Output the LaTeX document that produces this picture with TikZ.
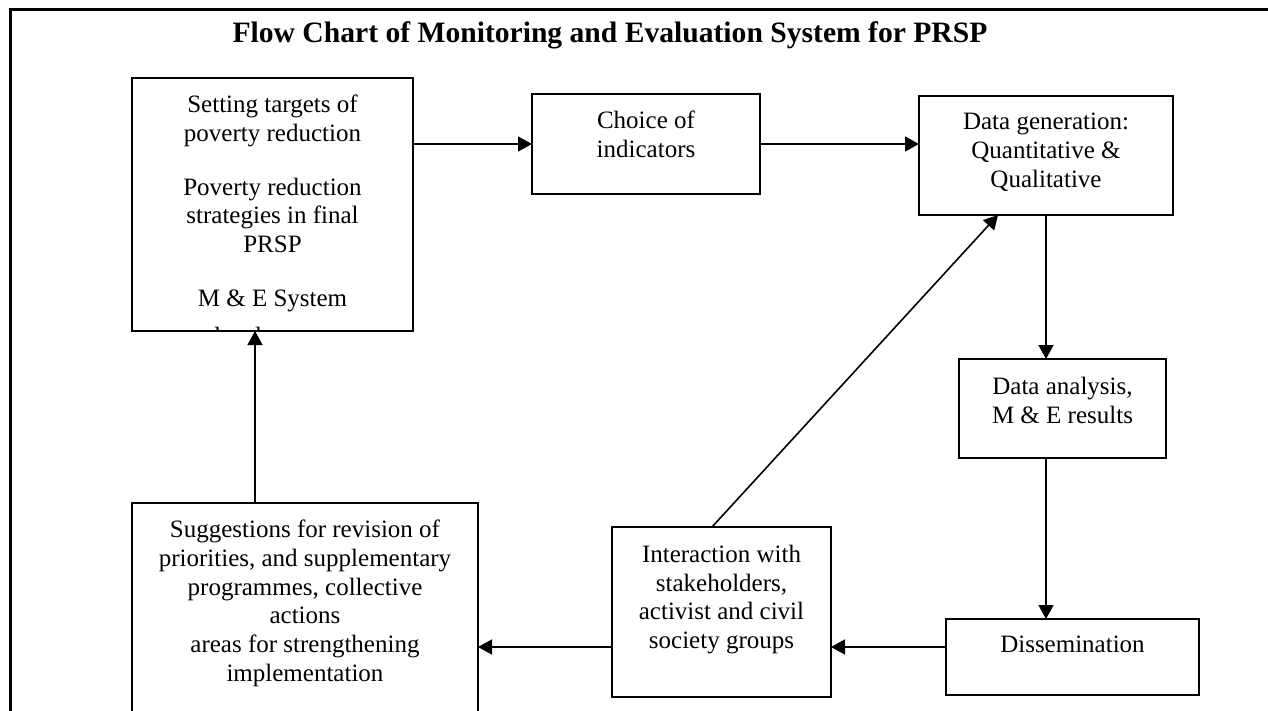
\documentclass[tikz,border=0pt]{standalone}
\usepackage{fontspec}
\setmainfont{Liberation Serif}
\usetikzlibrary{arrows.meta}
\begin{document}
\begin{tikzpicture}[x=1pt,y=-1pt,
  box/.style={draw, line width=2pt, inner sep=0pt, outer sep=0pt},
  txt/.style={anchor=north, align=center, inner sep=0pt, font=\fontsize{25pt}{28.7pt}\selectfont},
  arr/.style={line width=1.6pt, -{Triangle[length=14pt,width=15pt]}},
  frame/.style={line width=3pt}]
\clip (0,0) rectangle (1268,711);
% frame
\coordinate (fbl) at (10,720);
\coordinate (ftl) at (10,10);
\coordinate (ftr) at (1275,10);
\draw[frame] (fbl) -- (ftl) -- (ftr);
% title
\node[anchor=base, inner sep=0pt, font=\fontsize{29.6pt}{32pt}\selectfont\bfseries] (title) at (610,43)
  {Flow Chart of Monitoring and Evaluation System for PRSP};
% boxes
\node[box, minimum width=281pt, minimum height=253pt] (A) at (272.5,204.5) {};
\node[box, minimum width=228pt, minimum height=100pt] (B) at (646,144) {};
\node[box, minimum width=254pt, minimum height=119pt] (C) at (1046,155.5) {};
\node[box, minimum width=207pt, minimum height=99pt] (D) at (1062.5,408.5) {};
\node[box, minimum width=219pt, minimum height=170pt] (E) at (721.5,612) {};
\node[box, minimum width=253pt, minimum height=76pt] (F) at (1072.5,657) {};
\node[box, minimum width=346pt, minimum height=257pt] (G) at (305,631.5) {};
% texts
\begin{scope}
\clip (A.north west) rectangle (A.south east);
\node[txt] (At) at (272.5,95) {Setting targets of\\poverty reduction\\[25pt]Poverty reduction\\strategies in final\\PRSP\\[25pt]M \& E System\\[9pt]development};
\end{scope}
\node[txt] (Bt) at (646,111) {Choice of\\indicators};
\node[txt] (Ct) at (1046,113) {Data generation:\\Quantitative \&\\Qualitative};
\node[txt] (Dt) at (1062.5,377) {Data analysis,\\M \& E results};
\node[txt] (Et) at (721.5,545) {Interaction with\\stakeholders,\\activist and civil\\society groups};
\node[txt] (Ft) at (1072.5,636) {Dissemination};
\node[txt] (Gt) at (305,520) {Suggestions for revision of\\priorities, and supplementary\\programmes, collective\\actions\\areas for strengthening\\implementation};
% connectors
\coordinate (row) at (0,647);
\coordinate (gx) at (255,0);
\draw[arr] (A.east |- B.west) -- (B.west);
\draw[arr] (B.east) -- (C.west |- B.east);
\draw[arr] (C.south) -- (C.south |- D.north);
\draw[arr] (C.south |- D.south) -- (C.south |- F.north);
\draw[arr] (F.west |- row) -- (E.east |- row);
\draw[arr] (E.west |- row) -- (G.east |- row);
\draw[arr] ([xshift=-9.5pt]E.north) -- ([xshift=-48pt]C.south);
\draw[arr] (G.north -| gx) -- (A.south -| gx);
\end{tikzpicture}
\end{document}
